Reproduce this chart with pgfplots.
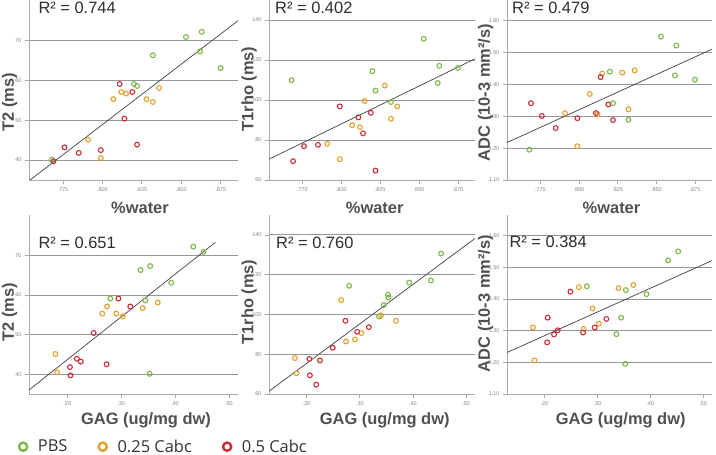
\documentclass[border=0pt]{standalone}
\usepackage{fontspec}
\setmainfont{Liberation Sans}
\newfontfamily\legendfont{Open Sans}
\usepackage{pgfplots}
\usepackage{pgfplotstable}
\pgfplotsset{compat=1.18}

\definecolor{pbs}{RGB}{122,184,72}
\definecolor{cla}{RGB}{226,160,48}
\definecolor{clb}{RGB}{200,46,56}
\definecolor{axgray}{RGB}{170,170,170}
\definecolor{gridgray}{RGB}{150,150,150}
\definecolor{labgray}{RGB}{80,80,80}
\definecolor{ticktext}{RGB}{130,130,130}

% PBS
\pgfplotstableread{
water gag t2 t1rho adc
0.853 0.453 70.9 130.6 1.550
0.863 0.434 72.2 117.1 1.522
0.862 0.354 67.3 108.5 1.428
0.875 0.393 63.1 116.0 1.415
0.832 0.336 66.3 99.0 1.289
0.820 0.280 59.1 114.4 1.440
0.822 0.345 58.6 104.7 1.341
0.768 0.353 40.1 109.9 1.195
}\tpbs
% 0.25 Cabc
\pgfplotstableread{
water gag t2 t1rho adc
0.807 0.291 55.3 87.4 1.370
0.812 0.274 57.1 86.4 1.306
0.815 0.340 56.7 99.5 1.434
0.828 0.265 55.3 107.2 1.437
0.832 0.303 54.6 90.6 1.322
0.836 0.368 58.1 96.8 1.444
0.791 0.178 45.1 78.1 1.310
0.799 0.181 40.5 70.4 1.206
}\tcla
% 0.5 Cabc
\pgfplotstableread{
water gag t2 t1rho adc
0.811 0.295 59.1 91.3 1.310
0.819 0.317 57.1 93.6 1.337
0.814 0.249 50.4 83.3 1.423
0.822 0.218 43.9 64.7 1.288
0.799 0.273 42.5 96.8 1.294
0.785 0.205 41.8 77.6 1.263
0.776 0.225 43.2 76.9 1.301
0.769 0.206 39.7 69.4 1.341
}\tclb

\pgfplotsset{
  base/.style={
    scale only axis, anchor=south west,
    axis lines*=left,
    axis line style={draw=axgray, line width=0.8bp, -},
    tick align=outside, major tick length=4bp,
    tick style={draw=axgray, line width=0.6bp},
    ymajorgrids, grid style={draw=gridgray, line width=0.9bp},
    tick label style={font=\fontsize{5.5}{6}\selectfont, text=ticktext},
    /pgf/number format/assume math mode=true,
    minor tick num=0,
  },
  waterx/.style={xmin=0.7535, xmax=0.886,
    xtick={0.775,0.8,0.825,0.85,0.875},
    xticklabels={.775,.800,.825,.850,.875}},
  gagx/.style={xmin=0.129, xmax=0.517,
    xtick={0.2,0.3,0.4,0.5},
    xticklabels={.20,.30,.40,.50}},
  t2y/.style={ymin=35, ymax=80.2, ytick={40,50,60,70}, yticklabels={40,50,60,70}},
  t1y/.style={ymin=60, ymax=150, ytick={60,80,100,120,140}, yticklabels={60,80,100,120,140}},
  adcy/.style={ymin=1.10, ymax=1.665, ytick={1.1,1.2,1.3,1.4,1.5,1.6},
    yticklabels={1.10,1.20,1.30,1.40,1.50,1.60}},
  toprow/.style={height=180bp},
  botrow/.style={height=179bp},
  c1/.style={width=209bp},
  c2/.style={width=206bp},
  c3/.style={width=205bp},
  pt/.style={only marks, mark=o, mark size=2.4bp, mark options={line width=1.1bp}},
  fit/.style={no marks, draw=black!75, line width=0.7bp},
}

\begin{document}
\begin{tikzpicture}
\useasboundingbox (0bp,0bp) rectangle (716bp,455bp);

% ---- Row 1 ----
\begin{axis}[base, toprow, c1, waterx, t2y, at={(29bp,275bp)}]
\addplot[pt, draw=pbs] table[x=water,y=t2]{\tpbs};
\addplot[pt, draw=cla] table[x=water,y=t2]{\tcla};
\addplot[pt, draw=clb] table[x=water,y=t2]{\tclb};
\addplot[fit] coordinates {(0.7535,34.8) (0.886,75.0)};
\end{axis}

\begin{axis}[base, toprow, c2, waterx, t1y, at={(269bp,275bp)}]
\addplot[pt, draw=pbs] table[x=water,y=t1rho]{\tpbs};
\addplot[pt, draw=cla] table[x=water,y=t1rho]{\tcla};
\addplot[pt, draw=clb] table[x=water,y=t1rho]{\tclb};
\addplot[fit] coordinates {(0.7535,70.4) (0.886,120.6)};
\end{axis}

\begin{axis}[base, toprow, c3, waterx, adcy, at={(507bp,275bp)}]
\addplot[pt, draw=pbs] table[x=water,y=adc]{\tpbs};
\addplot[pt, draw=cla] table[x=water,y=adc]{\tcla};
\addplot[pt, draw=clb] table[x=water,y=adc]{\tclb};
\addplot[fit] coordinates {(0.7535,1.2175) (0.886,1.5106)};
\end{axis}

% ---- Row 2 ----
\begin{axis}[base, botrow, c1, gagx, t2y, at={(29bp,61bp)},
  legend image code/.code={\draw[#1, line width=2.4bp, fill=none] (0bp,0bp) circle[radius=4.1bp];},
  legend style={at={(-0.0545,-0.2944)}, anchor=west, draw=none, fill=none,
    inner sep=0pt, legend columns=3,
    nodes={inner xsep=0pt, inner ysep=2bp},
    font=\legendfont\fontsize{16.5}{18}\selectfont, text=black!80,
    /tikz/every odd column/.append style={column sep=9.5bp},
    /tikz/every even column/.append style={column sep=30bp}},
  legend entries={PBS,0.25 Cabc,0.5 Cabc}]
\addlegendimage{draw=pbs}
\addlegendimage{draw=cla}
\addlegendimage{draw=clb}
\addplot[pt, draw=pbs] table[x=gag,y=t2]{\tpbs};
\addplot[pt, draw=cla] table[x=gag,y=t2]{\tcla};
\addplot[pt, draw=clb] table[x=gag,y=t2]{\tclb};
\addplot[fit] coordinates {(0.1286,35.97) (0.475,73.3)};
\end{axis}

\begin{axis}[base, botrow, c2, gagx, t1y, at={(269bp,61bp)}]
\addplot[pt, draw=pbs] table[x=gag,y=t1rho]{\tpbs};
\addplot[pt, draw=cla] table[x=gag,y=t1rho]{\tcla};
\addplot[pt, draw=clb] table[x=gag,y=t1rho]{\tclb};
\addplot[fit] coordinates {(0.129,61.4) (0.517,138.2)};
\end{axis}

\begin{axis}[base, botrow, c3, gagx, adcy, at={(507bp,61bp)}]
\addplot[pt, draw=pbs] table[x=gag,y=adc]{\tpbs};
\addplot[pt, draw=cla] table[x=gag,y=adc]{\tcla};
\addplot[pt, draw=clb] table[x=gag,y=adc]{\tclb};
\addplot[fit] coordinates {(0.129,1.231) (0.517,1.521)};
\end{axis}

% ---- Labels ----
\tikzset{xl/.style={anchor=base, inner sep=0pt, text=labgray, font=\bfseries\fontsize{16.5}{18}\selectfont},
         yl/.style={rotate=90, anchor=center, inner sep=0pt, text=labgray, font=\bfseries\fontsize{16.5}{18}\selectfont},
         rr/.style={anchor=base west, inner sep=0pt, text=black!82, font=\fontsize{16.5}{18}\selectfont}}
\node[xl] at (140bp,241.7bp) {\%water};
\node[xl] at (374.7bp,241.7bp) {\%water};
\node[xl] at (611.5bp,241.7bp) {\%water};
\node[xl] at (146bp,31bp) {GAG (ug/mg dw)};
\node[xl] at (384.7bp,31bp) {GAG (ug/mg dw)};
\node[xl] at (620.7bp,31bp) {GAG (ug/mg dw)};

\node[yl] at (9.5bp,353bp) {T2 (ms)};
\node[yl] at (249bp,366bp) {T1rho (ms)};
\node[yl] at (485.5bp,362.5bp) {ADC (10-3 mm²/s)};
\node[yl] at (9.5bp,143bp) {T2 (ms)};
\node[yl] at (249bp,153bp) {T1rho (ms)};
\node[yl] at (485.5bp,151.5bp) {ADC (10-3 mm²/s)};

\node[rr] at (38.3bp,441.7bp) {R² = 0.744};
\node[rr] at (275bp,441.7bp) {R² = 0.402};
\node[rr] at (512bp,441bp) {R² = 0.479};
\node[rr] at (38.3bp,206.7bp) {R² = 0.651};
\node[rr] at (276bp,206.7bp) {R² = 0.760};
\node[rr] at (509.3bp,207.3bp) {R² = 0.384};
\end{tikzpicture}
\end{document}
